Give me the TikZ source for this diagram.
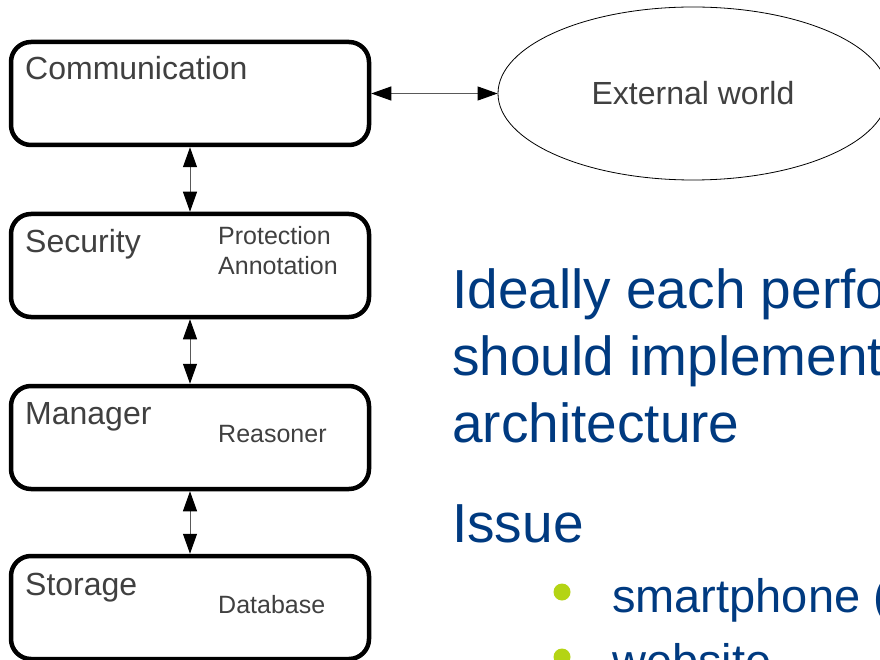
\documentclass[tikz,border=0pt]{standalone}
\usepackage{fontspec}
\setmainfont{Liberation Sans}
\usetikzlibrary{arrows.meta, shapes.geometric}

\definecolor{labelgray}{HTML}{404040}
\definecolor{slideblue}{HTML}{003A80}
\definecolor{bulletgreen}{HTML}{B4D414}

\tikzset{
    layer/.style = {draw, line width=4.5pt, rounded corners=20pt,
        minimum width=358pt, minimum height=103pt, inner sep=0pt},
    world/.style = {draw, ellipse, line width=0.8pt, minimum width=390pt,
        minimum height=173pt, inner sep=0pt, text=labelgray,
        font=\fontsize{32}{38}\selectfont},
    link/.style = {draw=black!65, line width=1pt,
        {Triangle[length=20pt,width=14pt,color=black]}-{Triangle[length=20pt,width=14pt,color=black]}},
    title/.style = {anchor=base west, inner sep=0pt, text=labelgray,
        font=\fontsize{32}{38}\selectfont},
    part/.style = {anchor=base west, inner sep=0pt, text=labelgray,
        font=\fontsize{25}{30}\selectfont},
    point/.style = {anchor=base west, inner sep=0pt, text=slideblue,
        font=\fontsize{55}{67}\selectfont},
    subpoint/.style = {anchor=base west, inner sep=0pt, text=slideblue,
        font=\fontsize{47}{56}\selectfont},
    bullet/.style = {circle, fill=bulletgreen, minimum size=17pt, inner sep=0pt}
}

\begin{document}
\begin{tikzpicture}[x=1pt, y=-1pt]
    \useasboundingbox (0,0) rectangle (880,660);
    \clip (0,0) rectangle (880,660);

    % the four layers
    \node[layer] (comm) at (190,93.5) {};
    \node[layer] (sec)  at (190,265.5) {};
    \node[layer] (man)  at (190,437.5) {};
    \node[layer] (stor) at (190,607.5) {};
    \node[world] (ext)  at (693,93.5) {External world};

    \node[title] (comm-t) at (25,80)  {Communication};
    \node[title] (sec-t)  at (25,252) {Security};
    \node[title] (man-t)  at (25,424) {Manager};
    \node[title] (stor-t) at (25,595) {Storage};

    \node[part] (prot) at (218,245) {Protection};
    \node[part] (anno) at (218,274) {Annotation};
    \node[part] (reas) at (218,442) {Reasoner};
    \node[part] (db)   at (218,613) {Database};

    % links between layers
    \draw[link] (comm) -- (sec);
    \draw[link] (sec) -- (man);
    \draw[link] (man) -- (stor);
    \draw[link] (comm) -- (ext);

    % slide text
    \node[point] (l1) at (452,308) {Ideally each perfo};
    \node[point] (l2) at (452,375) {should implement};
    \node[point] (l3) at (452,442) {architecture};
    \node[point] (l4) at (452,542) {Issue};

    \node[bullet] (b1) at (562,592) {};
    \node[subpoint] (s1) at (612,612) {smartphone (};
    \node[bullet] (b2) at (562,657) {};
    \node[subpoint] (s2) at (612,677) {website};
\end{tikzpicture}
\end{document}
